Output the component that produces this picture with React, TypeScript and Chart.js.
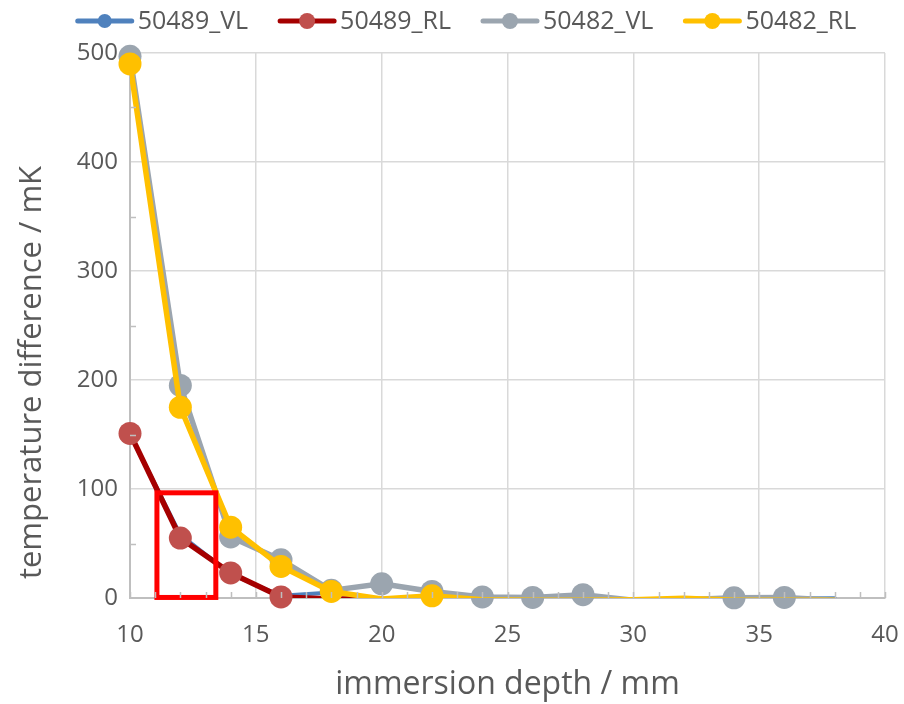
import React, { useEffect, useRef } from 'react';
import { Chart, registerables } from 'chart.js';

Chart.register(...registerables);

// ---- data ----
const depths = [10, 12, 14, 16, 18, 20, 22, 24, 26, 28, 30, 32, 34, 36, 38];
const vl50489 = [150, 58, 22, 2, 5, -1, -1, -1, -1, -1, -2, -2, -1, -0.5, -0.3];
const rl50489 = [151, 55, 23, 1, -1, -1];
const vl50482 = [497, 195, 56, 35, 7, 13, 6, 1, 0.5, 3, -2, -1.5, 0.2, 0.5, -2];
const rl50482 = [490, 175, 65, 29, 6, -1, 2, -1.5, -2, -2, -1.5, -0.3, -2, -2, -2];
const seriesNames = ['50489_VL', '50489_RL', '50482_VL', '50482_RL'];
const seriesValues = [vl50489, rl50489, vl50482, rl50482];
const xRange = [10, 40];
const yRange = [0, 500];
const xMinorStep = 1;
const yMinorStep = 50;
const xTitle = 'immersion depth / mm';
const yTitle = 'temperature difference / mK';
// highlighted region (data units): depth from..to, temperature from..to
const highlightDepth = [11.07, 13.41];
const highlightTemp = [0.5, 96.5];

// ---- styles ----
const styles = [
  { line: '#4F81BD', marker: '#4F81BD', lw: 4, r: 7, lr: 7 },
  { line: '#A50000', marker: '#C0504D', lw: 5.5, r: 11.5, lr: 8 },
  { line: '#9BA5AF', marker: '#9BA5AF', lw: 5.5, r: 11.5, lr: 8 },
  { line: '#FFC000', marker: '#FFC000', lw: 5.5, r: 11.5, lr: 8 },
];
const FONT = '"Open Sans", "Noto Sans", sans-serif';
const TEXT = '#595959';

const minorTicksPlugin = {
  id: 'minorTicks',
  afterDraw(chart: any) {
    const { ctx, chartArea } = chart;
    const xs = chart.scales.x;
    const ys = chart.scales.y;
    ctx.save();
    ctx.strokeStyle = '#BFBFBF';
    ctx.lineWidth = 1.5;
    ctx.beginPath();
    for (let v = xRange[0]; v <= xRange[1]; v += xMinorStep) {
      const px = Math.round(xs.getPixelForValue(v)) + 0.5;
      ctx.moveTo(px, chartArea.bottom);
      ctx.lineTo(px, chartArea.bottom - 6);
    }
    for (let v = yRange[0] + yMinorStep; v < yRange[1]; v += yMinorStep * 2) {
      const py = Math.round(ys.getPixelForValue(v)) + 0.5;
      ctx.moveTo(chartArea.left, py);
      ctx.lineTo(chartArea.left + 6, py);
    }
    ctx.stroke();
    ctx.restore();
  },
};

const highlightPlugin = {
  id: 'highlight',
  afterDatasetsDraw(chart: any) {
    const { ctx } = chart;
    const xs = chart.scales.x;
    const ys = chart.scales.y;
    const x1 = xs.getPixelForValue(highlightDepth[0]);
    const x2 = xs.getPixelForValue(highlightDepth[1]);
    const y1 = ys.getPixelForValue(highlightTemp[1]);
    const y2 = ys.getPixelForValue(highlightTemp[0]);
    ctx.save();
    ctx.strokeStyle = '#FF0000';
    ctx.lineWidth = 5;
    ctx.strokeRect(x1, y1, x2 - x1, y2 - y1);
    ctx.restore();
  },
};

const yTitlePlugin = {
  id: 'yTitle',
  afterDraw(chart: any) {
    const { ctx, chartArea } = chart;
    ctx.save();
    ctx.font = `31px ${FONT}`;
    ctx.fillStyle = TEXT;
    ctx.textAlign = 'center';
    ctx.textBaseline = 'middle';
    ctx.translate(32, (chartArea.top + chartArea.bottom) / 2 + 47);
    ctx.rotate(-Math.PI / 2);
    ctx.fillText(yTitle, 0, 0);
    ctx.restore();
  },
};

const legendPlugin = {
  id: 'lineLegend',
  afterDraw(chart: any) {
    const { ctx } = chart;
    ctx.save();
    ctx.font = `25px ${FONT}`;
    ctx.textBaseline = 'middle';
    ctx.textAlign = 'left';
    const lineLen = 54;
    const gapText = 6;
    const gapItem = 32;
    const widths = seriesNames.map((n) => ctx.measureText(n).width);
    const total =
      widths.reduce((a, w) => a + lineLen + gapText + w, 0) + gapItem * (seriesNames.length - 1);
    let x = 467 - total / 2;
    const y = 21;
    seriesNames.forEach((name, i) => {
      const s = styles[i];
      ctx.strokeStyle = s.line;
      ctx.lineWidth = 5;
      ctx.lineCap = 'round';
      ctx.beginPath();
      ctx.moveTo(x, y);
      ctx.lineTo(x + lineLen, y);
      ctx.stroke();
      ctx.fillStyle = s.marker;
      ctx.beginPath();
      ctx.arc(x + lineLen / 2, y, s.lr, 0, Math.PI * 2);
      ctx.fill();
      ctx.fillStyle = TEXT;
      ctx.fillText(name, x + lineLen + gapText, y + 1);
      x += lineLen + gapText + widths[i] + gapItem;
    });
    ctx.restore();
  },
};

export default function App() {
  const ref = useRef<HTMLCanvasElement | null>(null);
  useEffect(() => {
    if (!ref.current) return;
    const datasets: any[] = [];
    seriesValues.forEach((vals, i) => {
      const s = styles[i];
      const pts = vals.map((v, k) => ({ x: depths[k], y: v }));
      const base = 2 * (seriesValues.length - 1 - i);
      datasets.push({
        label: seriesNames[i] + ' line',
        data: pts,
        borderColor: s.line,
        backgroundColor: s.line,
        borderWidth: s.lw,
        pointRadius: 0,
        clip: 0,
        order: base + 1,
        tension: 0,
        borderJoinStyle: 'round',
        borderCapStyle: 'round',
      });
      datasets.push({
        label: seriesNames[i],
        data: pts,
        showLine: false,
        borderWidth: 0,
        pointBorderWidth: 0,
        pointBackgroundColor: s.marker,
        pointBorderColor: s.marker,
        pointRadius: (c: any) => (c.raw && c.raw.y < 0 ? 0 : s.r),
        clip: false,
        order: base,
      });
    });
    const chart = new Chart(ref.current, {
      type: 'line',
      data: { datasets },
      options: {
        animation: false,
        responsive: false,
        events: [],
        layout: { padding: { left: 0, right: 19, top: 53, bottom: 0 } },
        plugins: { legend: { display: false }, tooltip: { enabled: false } },
        scales: {
          x: {
            type: 'linear',
            min: xRange[0],
            max: xRange[1],
            afterFit: (s: any) => {
              s.height = 106;
              s.paddingLeft = 0;
              s.paddingRight = 0;
            },
            ticks: {
              stepSize: 5,
              color: TEXT,
              font: { family: FONT, size: 24 },
              padding: 23,
              maxRotation: 0,
            },
            grid: { color: '#D9D9D9', lineWidth: 1.5, drawTicks: false },
            border: { display: true, color: '#BFBFBF', width: 2 },
            title: {
              display: true,
              text: xTitle,
              color: TEXT,
              font: { family: FONT, size: 32 },
              padding: { top: 0, bottom: 0 },
            },
          },
          y: {
            type: 'linear',
            min: yRange[0],
            max: yRange[1],
            afterFit: (s: any) => {
              s.width = 130;
              s.paddingTop = 0;
              s.paddingBottom = 0;
            },
            ticks: {
              stepSize: 100,
              color: TEXT,
              font: { family: FONT, size: 24 },
              padding: 12,
            },
            grid: { color: '#D9D9D9', lineWidth: 1.5, drawTicks: false },
            border: { display: true, color: '#BFBFBF', width: 2 },
          },
        },
      },
      plugins: [minorTicksPlugin, highlightPlugin, yTitlePlugin, legendPlugin],
    });
    return () => chart.destroy();
  }, []);
  return (
    <div style={{ position: 'absolute', left: 0, top: 0, width: 904, height: 704, background: '#fff' }}>
      <canvas ref={ref} width={904} height={704} style={{ display: 'block' }} />
    </div>
  );
}
